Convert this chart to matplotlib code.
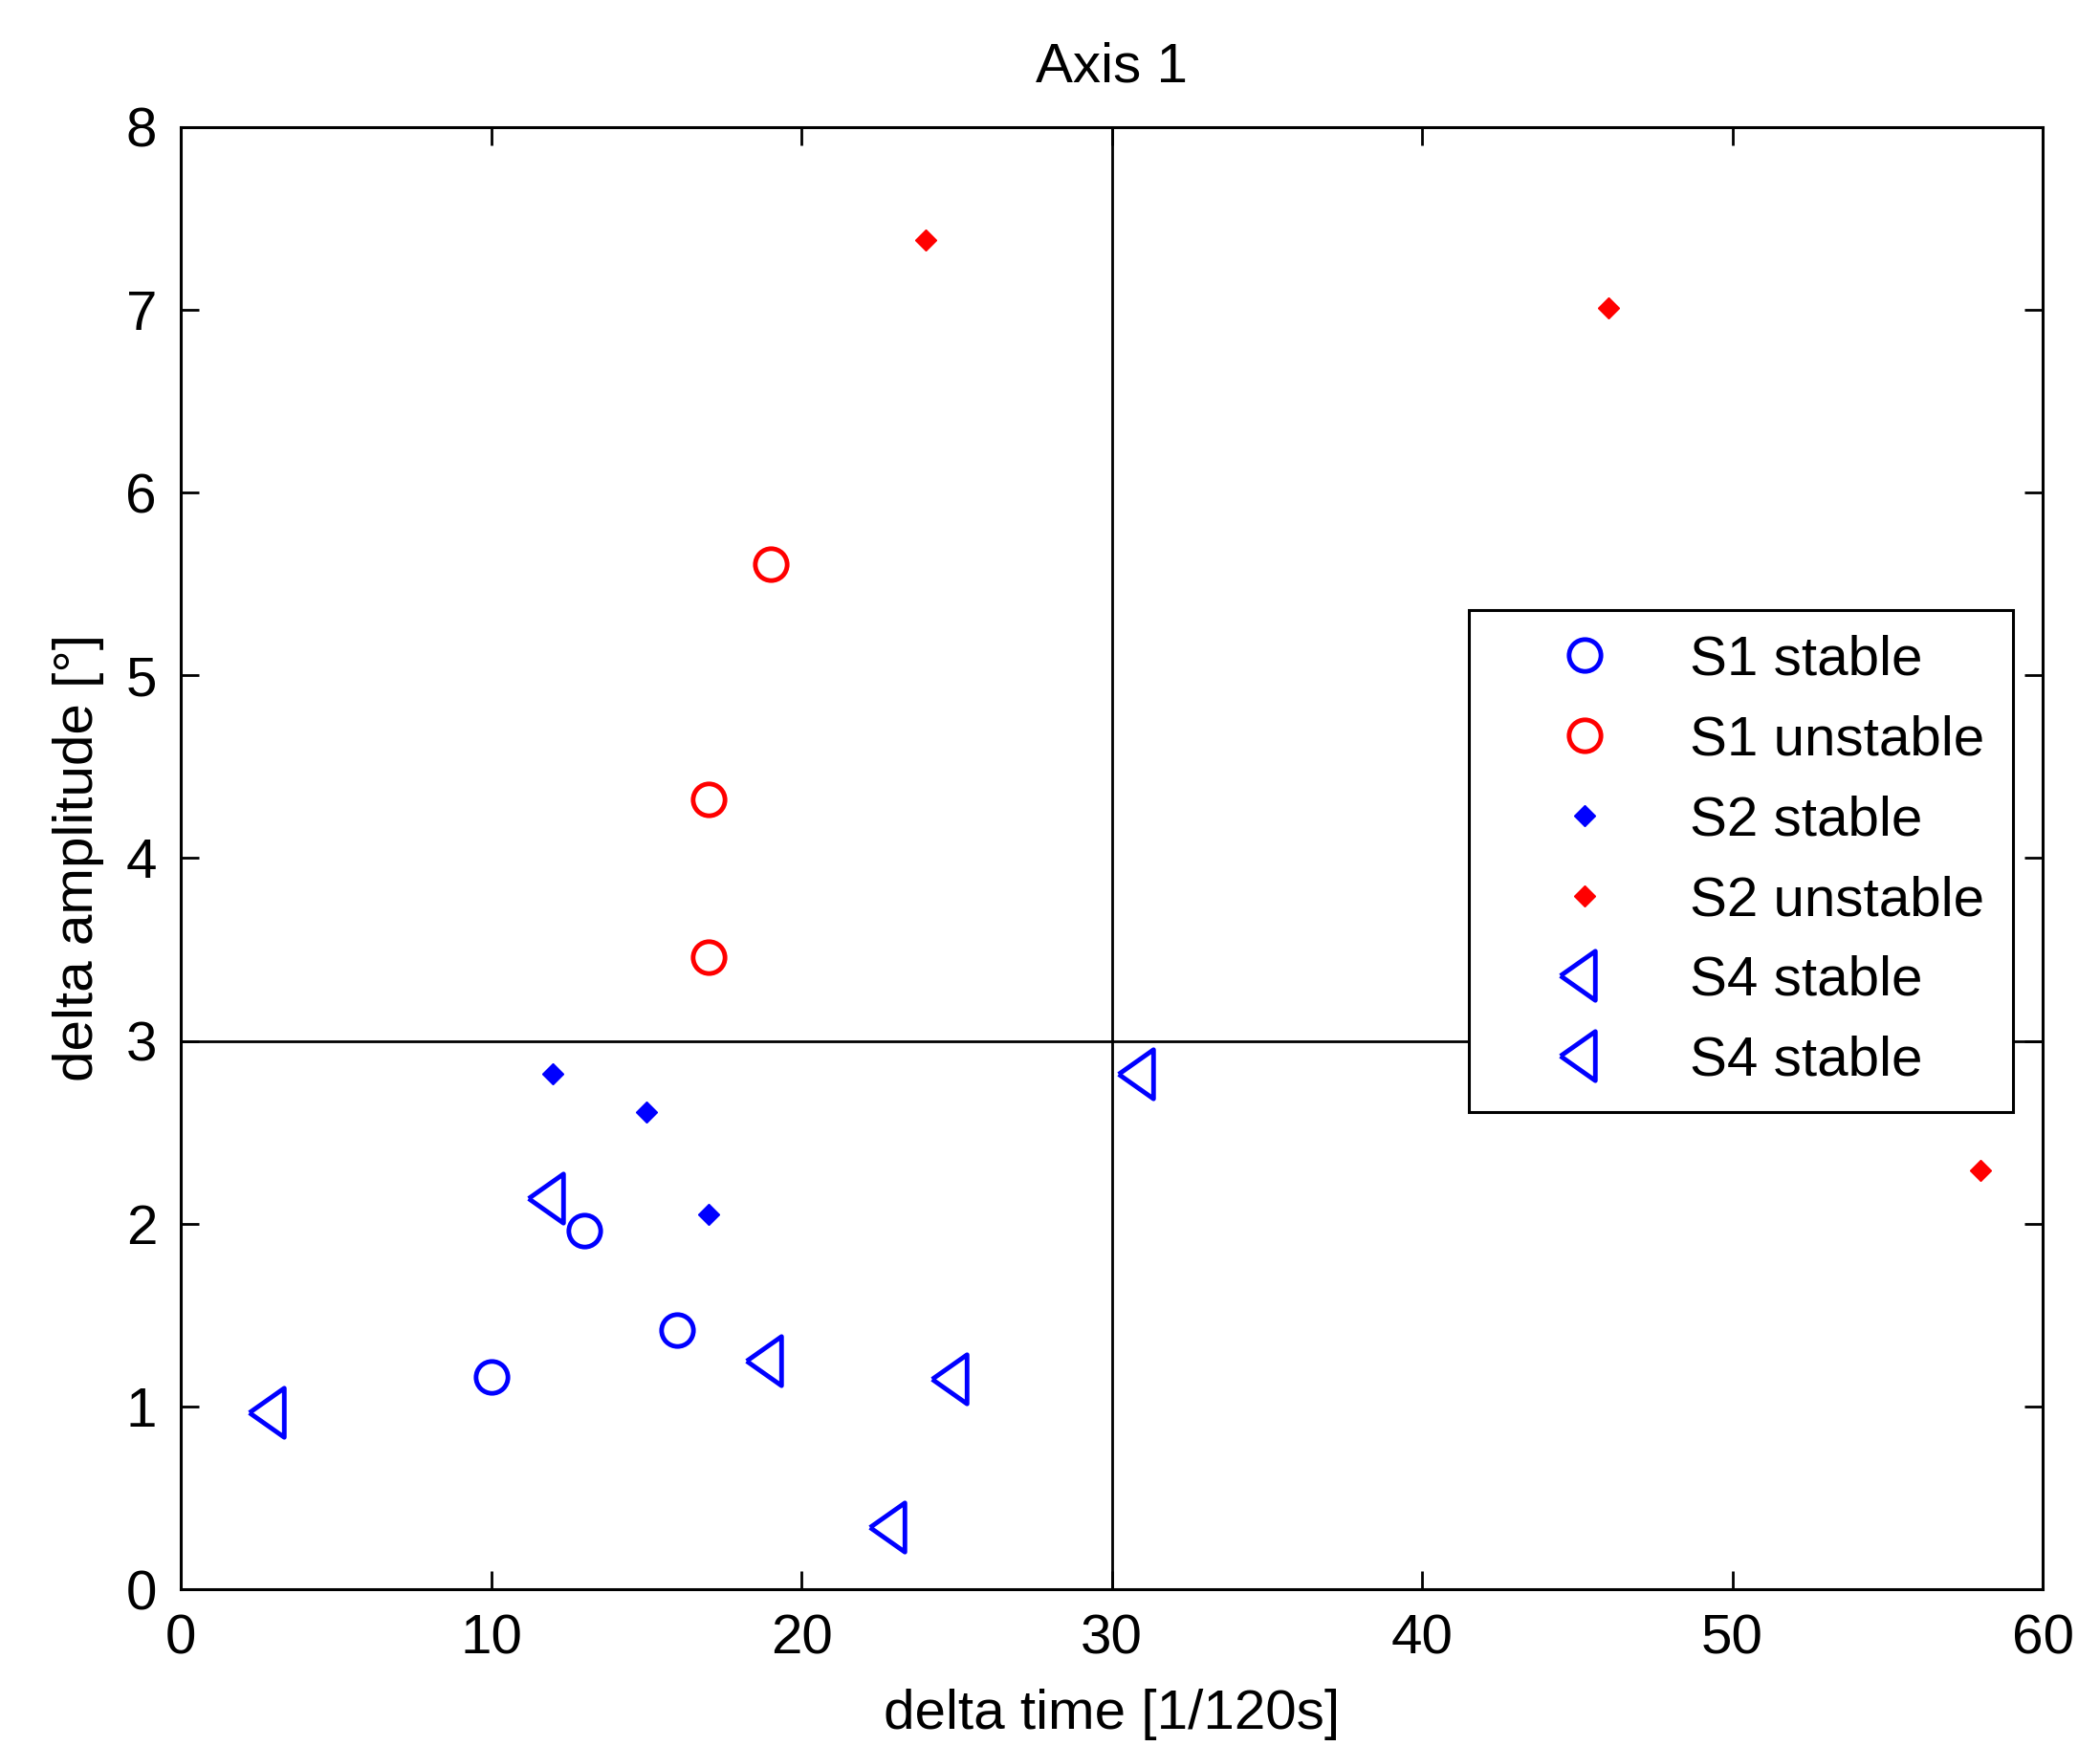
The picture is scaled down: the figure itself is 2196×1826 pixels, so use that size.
import matplotlib
matplotlib.use("Agg")
import matplotlib.pyplot as plt

plt.rcParams['font.family'] = ['Liberation Sans', 'DejaVu Sans']

# Data
s1_stable_x = [10, 13, 16]
s1_stable_y = [1.16, 1.96, 1.42]
s1_unstable_x = [19, 17, 17]
s1_unstable_y = [5.61, 4.32, 3.46]
s2_stable_x = [12, 15, 17]
s2_stable_y = [2.82, 2.61, 2.05]
s2_unstable_x = [24, 46, 58]
s2_unstable_y = [7.38, 7.01, 2.29]
s4_stable_x = [3, 12, 19, 23, 25, 31]
s4_stable_y = [0.97, 2.14, 1.25, 0.34, 1.15, 2.82]
s4_stable2_x = []
s4_stable2_y = []

labels = ["S1 stable", "S1 unstable", "S2 stable", "S2 unstable", "S4 stable", "S4 stable"]
x_ticks = [0, 10, 20, 30, 40, 50, 60]
y_ticks = [0, 1, 2, 3, 4, 5, 6, 7, 8]
vline_x = 30
hline_y = 3

FS = 42
fig = plt.figure(figsize=(21.96, 18.26), dpi=100)
ax = fig.add_axes([0.0861, 0.0898, 0.8866, 0.8374])

tri = [(-1.0, 0.0), (0.42, 1.0), (0.42, -1.0), (-1.0, 0.0)]

ax.axvline(vline_x, color='black', lw=2.0, zorder=1)
ax.axhline(hline_y, color='black', lw=2.0, zorder=1)

ax.plot(s1_stable_x, s1_stable_y, ls='none', marker='o', ms=24, mfc='none', mec='blue', mew=3.5, label=labels[0])
ax.plot(s1_unstable_x, s1_unstable_y, ls='none', marker='o', ms=24, mfc='none', mec='red', mew=3.5, label=labels[1])
ax.plot(s2_stable_x, s2_stable_y, ls='none', marker='D', ms=11, mfc='blue', mec='blue', mew=1, label=labels[2])
ax.plot(s2_unstable_x, s2_unstable_y, ls='none', marker='D', ms=11, mfc='red', mec='red', mew=1, label=labels[3])
ax.plot(s4_stable_x, s4_stable_y, ls='none', marker=tri, ms=37, mfc='none', mec='blue', mew=3.5, label=labels[4])
ax.plot(s4_stable2_x, s4_stable2_y, ls='none', marker=tri, ms=37, mfc='none', mec='blue', mew=3.5, label=labels[5])

ax.set_xlim(0, 60)
ax.set_ylim(0, 8)
ax.set_xticks(x_ticks)
ax.set_yticks(y_ticks)
ax.tick_params(direction='in', length=14, width=2.0, top=True, right=True, labelsize=FS, pad=18, colors='black')
for s in ax.spines.values():
    s.set_linewidth(2.2)

ax.set_xlabel("delta time [1/120s]", fontsize=FS, labelpad=18)
ax.set_ylabel("delta amplitude [°]", fontsize=FS, labelpad=16)
ax.set_title("Axis 1", fontsize=FS, pad=34)

leg = ax.legend(loc='upper left', bbox_to_anchor=(0.692, 0.328, 0.292, 0.342), mode='expand',
                fontsize=FS, numpoints=1, handlelength=3.25, handletextpad=0.25, borderpad=0.45,
                labelspacing=0.51, fancybox=False, framealpha=1, edgecolor='black', borderaxespad=0)
leg.get_frame().set_linewidth(2.2)

fig.savefig("out.png", dpi=100, facecolor='white')
